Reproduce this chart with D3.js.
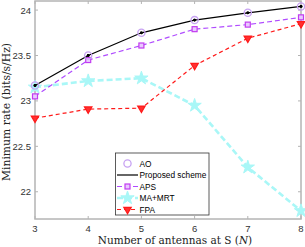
<!DOCTYPE html>
<html>
<head>
<meta charset="utf-8">
<script src="https://cdn.jsdelivr.net/npm/d3@7"></script>
<style>
  body { margin: 0; background: #fff; }
  svg { display: block; }
</style>
</head>
<body>
<div id="chart"></div>
<script>
// data
const antennas = [3, 4, 5, 6, 7, 8]
const ao       = [23.17, 23.50, 23.75, 23.89, 23.97, 24.04]
const proposed = [23.17, 23.50, 23.75, 23.89, 23.97, 24.04]
const aps      = [23.05, 23.45, 23.61, 23.79, 23.84, 23.92]
const mamrt    = [23.15, 23.22, 23.25, 22.95, 22.27, 21.79]
const fpa      = [22.81, 22.91, 22.92, 23.39, 23.69, 23.85]
const yTicks = [22, 22.5, 23, 23.5, 24]
const xTicks = [3, 4, 5, 6, 7, 8]

const W = 305, H = 247
const svg = d3.select("#chart").append("svg")
  .attr("width", W).attr("height", H)

const x = d3.scaleLinear().domain([3, 8]).range([35, 301])
const y = d3.scaleLinear().domain([21.7, 24.1]).range([219, 1])

const axisColor = "#b4b4b4"
const tickFont = "Liberation Sans, Arial, sans-serif"
const serif = "DejaVu Serif, serif"

// box
svg.append("rect")
  .attr("x", x(3)).attr("y", y(24.1))
  .attr("width", x(8) - x(3)).attr("height", y(21.7) - y(24.1))
  .attr("fill", "none").attr("stroke", axisColor).attr("stroke-width", 1.5)

// ticks (inside, all sides)
const tl = 3
xTicks.forEach(t => {
  svg.append("line").attr("x1", x(t)).attr("x2", x(t)).attr("y1", y(21.7)).attr("y2", y(21.7) - tl)
    .attr("stroke", axisColor)
  svg.append("line").attr("x1", x(t)).attr("x2", x(t)).attr("y1", y(24.1)).attr("y2", y(24.1) + tl)
    .attr("stroke", axisColor)
  svg.append("text").attr("x", x(t)).attr("y", 232).attr("text-anchor", "middle")
    .attr("font-family", tickFont).attr("font-size", 9.5).attr("fill", "#333").text(t)
})
yTicks.forEach(t => {
  svg.append("line").attr("x1", x(3)).attr("x2", x(3) + tl).attr("y1", y(t)).attr("y2", y(t))
    .attr("stroke", axisColor)
  svg.append("line").attr("x1", x(8)).attr("x2", x(8) - tl).attr("y1", y(t)).attr("y2", y(t))
    .attr("stroke", axisColor)
  svg.append("text").attr("x", 31).attr("y", y(t) + 3.5).attr("text-anchor", "end")
    .attr("font-family", tickFont).attr("font-size", 9.5).attr("fill", "#333").text(t)
})

// axis labels
const xl = svg.append("text").attr("x", 175).attr("y", 244).attr("text-anchor", "middle")
  .attr("font-family", serif).attr("font-size", 10.5).attr("fill", "#222")
xl.append("tspan").text("Number of antennas at S (")
xl.append("tspan").attr("font-style", "italic").text("N")
xl.append("tspan").text(")")

svg.append("text").attr("transform", "translate(10,112) rotate(-90)")
  .attr("text-anchor", "middle")
  .attr("font-family", serif).attr("font-size", 10.8).attr("fill", "#222")
  .text("Minimum rate (bits/s/Hz)")

const line = d3.line().x((d, i) => x(antennas[i])).y(d => y(d))

const series = [
  { name: "MA+MRT", vals: mamrt, color: "#a9f7f7", width: 2.6, dash: "6,3", marker: "star" },
  { name: "FPA", vals: fpa, color: "#ff1a1a", width: 1.2, dash: "4,3", marker: "tri" },
  { name: "APS", vals: aps, color: "#b04cff", width: 1.2, dash: "5,3", marker: "square" },
  { name: "Proposed scheme", vals: proposed, color: "#000", width: 1.2, dash: null, marker: "dot" },
  { name: "AO", vals: ao, color: "#c7a2f2", width: 0, dash: null, marker: "circle" }
]

function drawMarker(g, kind, cx, cy, color) {
  if (kind == "star") {
    g.append("path").attr("d", d3.symbol(d3.symbolStar, 55)())
      .attr("transform", `translate(${cx},${cy})`).attr("fill", color).attr("stroke", color)
  } else if (kind == "tri") {
    g.append("path").attr("d", d3.symbol(d3.symbolTriangle, 24)())
      .attr("transform", `translate(${cx},${cy}) rotate(180)`)
      .attr("fill", "#ff3030").attr("stroke", color).attr("stroke-width", 1.2)
  } else if (kind == "square") {
    g.append("rect").attr("x", cx - 2.5).attr("y", cy - 2.5).attr("width", 5).attr("height", 5)
      .attr("fill", "#e9c9ff").attr("stroke", "#c23cf0").attr("stroke-width", 1.2)
  } else if (kind == "dot") {
    g.append("circle").attr("cx", cx).attr("cy", cy).attr("r", 1.4).attr("fill", "#000")
  } else if (kind == "circle") {
    g.append("circle").attr("cx", cx).attr("cy", cy).attr("r", 3.6)
      .attr("fill", "none").attr("stroke", color).attr("stroke-width", 1.3)
  }
}

series.forEach(s => {
  const g = svg.append("g")
  if (s.width > 0) {
    g.append("path").datum(s.vals).attr("d", line)
      .attr("fill", "none").attr("stroke", s.color).attr("stroke-width", s.width)
      .attr("stroke-dasharray", s.dash)
  }
  s.vals.forEach((v, i) => drawMarker(g, s.marker, x(antennas[i]), y(v), s.color))
})
// dots of proposed on top of AO circles
proposed.forEach((v, i) => drawMarker(svg, "dot", x(antennas[i]), y(v), "#000"))

// legend
const lg = svg.append("g")
lg.append("rect").attr("x", 115.5).attr("y", 153).attr("width", 93.5).attr("height", 62)
  .attr("fill", "#fff").attr("stroke", "#333").attr("stroke-width", 0.8)
const legendOrder = ["AO", "Proposed scheme", "APS", "MA+MRT", "FPA"]
legendOrder.forEach((name, i) => {
  const s = series.find(d => d.name == name)
  const ly = 163.5 + i * 11.5
  if (s.width > 0) {
    lg.append("line").attr("x1", 117).attr("x2", 138).attr("y1", ly).attr("y2", ly)
      .attr("stroke", s.color).attr("stroke-width", s.width).attr("stroke-dasharray", s.dash)
  }
  if (s.marker != "dot") drawMarker(lg, s.marker, 127.5, ly, s.color)
  lg.append("text").attr("x", 139.5).attr("y", ly + 3.2)
    .attr("font-family", tickFont).attr("font-size", 8.3).attr("fill", "#000").text(name)
})
</script>
</body>
</html>
